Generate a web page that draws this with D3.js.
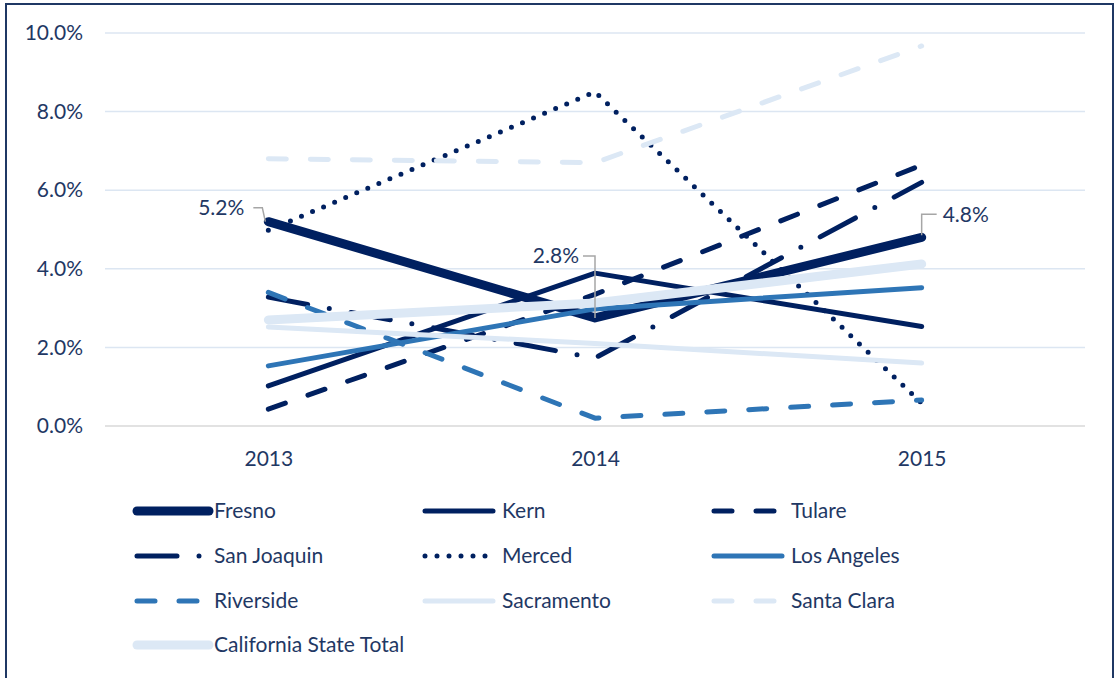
<!DOCTYPE html>
<html>
<head>
<meta charset="utf-8">
<script src="https://cdn.jsdelivr.net/npm/d3@7"></script>
<style>
  body { margin: 0; background: #fff; }
  svg text { font-family: Lato, "Open Sans", sans-serif; fill: #1f3864; }
</style>
</head>
<body>
<svg id="chart" width="1115" height="678"></svg>
<script>
// data
var years = ["2013", "2014", "2015"];
var yTicks = [0, 0.02, 0.04, 0.06, 0.08, 0.10];

var fresno = [0.052, 0.0275, 0.048];
var kern = [0.0102, 0.0389, 0.0253];
var tulare = [0.0043, 0.0335, 0.0664];
var sanJoaquin = [0.0328, 0.0173, 0.062];
var merced = [0.0498, 0.085, 0.0058];
var losAngeles = [0.0153, 0.0298, 0.0352];
var riverside = [0.034, 0.002, 0.0066];
var sacramento = [0.0252, 0.021, 0.016];
var santaClara = [0.068, 0.067, 0.0967];
var caTotal = [0.027, 0.0313, 0.0412];

var seriesNames = ["Fresno", "Kern", "Tulare", "San Joaquin", "Merced", "Los Angeles",
    "Riverside", "Sacramento", "Santa Clara", "California State Total"];
var seriesValues = [fresno, kern, tulare, sanJoaquin, merced, losAngeles,
    riverside, sacramento, santaClara, caTotal];

// callouts on Fresno
var labelPoints = [0, 1, 2];

var navy = "#002060", mid = "#2e75b6", light = "#dce8f5";
var fontSize = 21;
var styles = [
    { color: navy, width: 9, dash: null },
    { color: navy, width: 5, dash: null },
    { color: navy, width: 5, dash: "18,24" },
    { color: navy, width: 5, dash: "40,22,0,22" },
    { color: navy, width: 5, dash: "0,12" },
    { color: mid, width: 5, dash: null },
    { color: mid, width: 5, dash: "18,24" },
    { color: light, width: 5, dash: null },
    { color: light, width: 5, dash: "18,24" },
    { color: light, width: 9, dash: null }
];

var svg = d3.select('#chart');

// frame
svg.append('rect')
    .attr('x', 6).attr('y', 4)
    .attr('width', 1107).attr('height', 700)
    .attr('fill', 'none')
    .attr('stroke', '#1f3864')
    .attr('stroke-width', 2);

var x = d3.scalePoint().domain(years).range([105, 1085]).padding(0.5);
var y = d3.scaleLinear().domain([0, 0.10]).range([426, 33]);

// gridlines
svg.append('g').selectAll('line')
    .data(yTicks.slice(1))
    .join('line')
    .attr('x1', 105).attr('x2', 1085)
    .attr('y1', function (d) { return y(d); })
    .attr('y2', function (d) { return y(d); })
    .attr('stroke', '#dce6f2')
    .attr('stroke-width', 1.5);

svg.append('line')
    .attr('x1', 105).attr('x2', 1085)
    .attr('y1', y(0)).attr('y2', y(0))
    .attr('stroke', '#d9d9d9')
    .attr('stroke-width', 1.5);

// y axis labels
var yAxis = d3.axisLeft(y).tickValues(yTicks).tickFormat(d3.format('.1%')).tickSize(0).tickPadding(0);
var yg = svg.append('g').attr('transform', 'translate(83,0)').call(yAxis);
yg.select('.domain').remove();
yg.selectAll('text').attr('font-size', fontSize).style('font-family', 'Lato, sans-serif').attr('fill', '#1f3864');

// x axis labels
var xAxis = d3.axisBottom(x).tickSize(0).tickPadding(0);
var xg = svg.append('g').attr('transform', 'translate(0,' + 459 + ')').call(xAxis);
xg.select('.domain').remove();
xg.selectAll('text').attr('font-size', fontSize).attr('dy', '0.35em').style('font-family', 'Lato, sans-serif').attr('fill', '#1f3864');

// lines
var line = d3.line()
    .x(function (d, i) { return x(years[i]); })
    .y(function (d) { return y(d); });

svg.append('g').selectAll('path')
    .data(seriesValues)
    .join('path')
    .attr('d', line)
    .attr('fill', 'none')
    .attr('stroke', function (d, i) { return styles[i].color; })
    .attr('stroke-width', function (d, i) { return styles[i].width; })
    .attr('stroke-dasharray', function (d, i) { return styles[i].dash; })
    .attr('stroke-linecap', 'round')
    .attr('stroke-linejoin', 'round');

// Fresno data labels with leader lines
var fmt = d3.format('.1%');
var callouts = [
    { lx: -15, ly: -14, anchor: 'end', tx: -24 },
    { lx: -12, ly: -62, anchor: 'end', tx: -16 },
    { lx: 15, ly: -23, anchor: 'start', tx: 21 }
];
labelPoints.forEach(function (i, k) {
    var px = x(years[i]), py = y(fresno[i]);
    var c = callouts[k];
    var hx = px + c.lx, hy = py + c.ly;
    var g = svg.append('g');
    var pts;
    if (k === 1) pts = [[hx, hy], [px, hy], [px, py]];
    else if (k === 0) pts = [[hx, hy], [px - 6, hy], [px - 3, py]];
    else pts = [[hx, hy], [px, hy], [px, py - 2]];
    g.append('path')
        .attr('d', d3.line()(pts))
        .attr('fill', 'none')
        .attr('stroke', '#a6a6a6')
        .attr('stroke-width', 1.5);
    g.append('text')
        .attr('x', px + c.tx)
        .attr('y', hy)
        .attr('dy', '0.35em')
        .attr('text-anchor', c.anchor)
        .attr('font-size', fontSize)
        .text(fmt(fresno[i]));
});

// legend
var legCols = [135, 423, 712];
var legRows = [511, 556, 601, 645];
var leg = svg.append('g').selectAll('g')
    .data(seriesNames)
    .join('g')
    .attr('transform', function (d, i) {
        return 'translate(' + legCols[i % 3] + ',' + legRows[Math.floor(i / 3)] + ')';
    });

leg.append('line')
    .attr('x1', 2).attr('x2', function (d, i) { return i % 3 === 0 ? 74 : 70; })
    .attr('y1', 0).attr('y2', 0)
    .attr('stroke', function (d, i) { return styles[i].color; })
    .attr('stroke-width', function (d, i) { return styles[i].width; })
    .attr('stroke-dasharray', function (d, i) { return styles[i].dash; })
    .attr('stroke-linecap', 'round');

leg.append('text')
    .attr('x', 79)
    .attr('y', 0)
    .attr('dy', '0.35em')
    .attr('font-size', fontSize)
    .text(function (d) { return d; });
</script>
</body>
</html>
